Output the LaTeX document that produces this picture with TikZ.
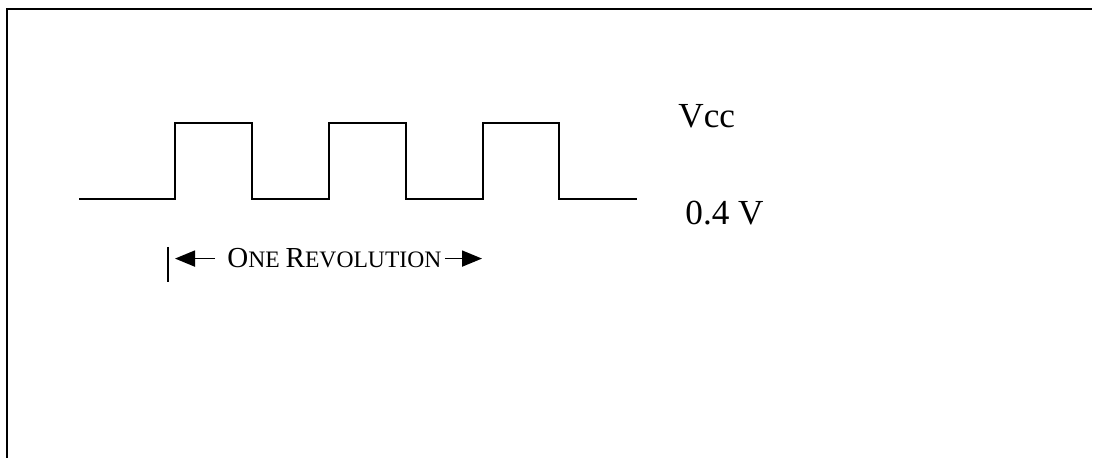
\documentclass[tikz,border=0pt]{standalone}
\usepackage{fontspec}
\setmainfont{Liberation Serif}
\usetikzlibrary{arrows.meta}
\begin{document}
\begin{tikzpicture}[x=0.5pt,y=-0.5pt,
  lbl/.style={anchor=base west,inner sep=0pt,font=\fontsize{17.6}{20}\selectfont},
  rev/.style={-{Triangle[length=10pt,width=8pt]},line width=0.9pt}]
\useasboundingbox (0,0) rectangle (1094,458);
\draw [line width=1.1pt] (7,458) -- (7,9) -- (1092,9);
\draw [line width=0.7pt] (79,199) -- (175,199) -- (175,123) -- (252,123) -- (252,199)
  -- (329,199) -- (329,123) -- (406,123) -- (406,199)
  -- (483,199) -- (483,123) -- (559,123) -- (559,199) -- (637,199);
\node [lbl] (vcc) at (678,128) {Vcc};
\node [lbl] (low) at (685,225) {0.4 V};
\node [anchor=base west,inner sep=0pt] (revtxt) at (227,268)
  {\fontsize{14.5}{16}\selectfont O\fontsize{11.8}{14}\selectfont NE
   \fontsize{14.5}{16}\selectfont R\fontsize{11.8}{14}\selectfont EVOLUTION};
\coordinate (tipL) at (175,257);
\coordinate (tipR) at (482,257);
\draw [line width=0.9pt] (168,247) -- (168,282);
\draw [rev] ([xshift=-6pt]revtxt.west) -- (tipL |- revtxt.west);
\draw [rev] ([xshift=1.5pt]revtxt.east) -- (tipR |- revtxt.east);
\end{tikzpicture}
\end{document}
